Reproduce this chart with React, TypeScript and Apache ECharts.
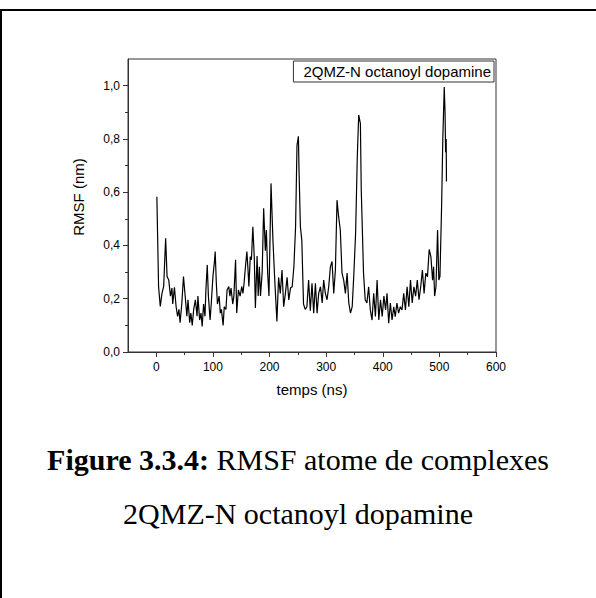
import React, { useEffect, useRef } from "react";
import * as echarts from "echarts";

const positions = [
  1, 4, 7, 10, 13, 16.5, 19, 22, 25, 27.6, 29, 32, 35, 37.6, 40, 42, 45, 48, 51, 54, 56, 59, 61, 63.5, 66, 69, 72, 73.5,
  76.5, 79, 81, 83.5, 86, 87.6, 90, 92, 95, 97, 100, 103, 104, 106, 108, 111, 113, 115, 118, 120, 123, 125, 128, 130,
  132, 135, 137, 140, 142, 145, 148, 151, 153, 155, 158, 160, 162, 163.5, 166, 168, 170.5, 173, 175, 178, 180, 182,
  184, 187, 189.6, 192.6, 194.4, 196.7, 199, 202.6, 206, 209, 213, 216, 219, 222, 225, 228, 231, 234, 237, 240, 243,
  246, 248.5, 251, 252, 254.5, 257, 260, 263, 266, 269, 272, 275, 278, 281, 284, 286.8, 290, 293, 295.6, 298.6, 301.6,
  304.5, 307.5, 310.4, 313.4, 316.3, 319.2, 322, 325, 328, 331, 334, 337, 340, 343, 346, 349, 352, 355, 357.5, 360.5,
  362, 363.8, 366, 369, 372, 375, 378, 381, 384, 387, 390, 393, 396, 399, 402, 405, 407.5, 410.5, 413.4, 416.4, 419.4,
  422, 425, 428, 431, 434, 437, 440, 443, 446, 449, 452, 455, 458, 461, 464, 467, 470, 473, 476, 479, 482, 485, 488,
  489.8, 491.6, 494, 496.8, 499, 501, 503.9, 506, 508.6, 510, 511, 512, 512.5,
];
const rmsf = [
  0.583, 0.246, 0.171, 0.22, 0.246, 0.427, 0.283, 0.27, 0.21, 0.24, 0.18, 0.243, 0.17, 0.134, 0.16, 0.11, 0.18, 0.283,
  0.21, 0.134, 0.196, 0.11, 0.146, 0.1, 0.16, 0.196, 0.134, 0.21, 0.12, 0.146, 0.096, 0.18, 0.134, 0.233, 0.327, 0.21,
  0.12, 0.18, 0.283, 0.346, 0.377, 0.258, 0.18, 0.21, 0.146, 0.16, 0.1, 0.17, 0.16, 0.233, 0.246, 0.21, 0.24, 0.18,
  0.21, 0.346, 0.146, 0.233, 0.21, 0.246, 0.22, 0.258, 0.333, 0.377, 0.308, 0.246, 0.358, 0.346, 0.47, 0.358, 0.165,
  0.36, 0.21, 0.32, 0.21, 0.3, 0.54, 0.38, 0.458, 0.296, 0.21, 0.633, 0.42, 0.28, 0.115, 0.28, 0.22, 0.308, 0.17, 0.22,
  0.28, 0.195, 0.24, 0.245, 0.32, 0.47, 0.776, 0.81, 0.69, 0.47, 0.42, 0.18, 0.16, 0.17, 0.27, 0.155, 0.258, 0.146,
  0.258, 0.146, 0.22, 0.245, 0.184, 0.27, 0.22, 0.196, 0.245, 0.32, 0.34, 0.22, 0.308, 0.57, 0.508, 0.458, 0.296, 0.27,
  0.22, 0.296, 0.184, 0.146, 0.17, 0.296, 0.445, 0.733, 0.89, 0.857, 0.608, 0.47, 0.296, 0.196, 0.184, 0.245, 0.158,
  0.12, 0.22, 0.133, 0.27, 0.12, 0.196, 0.133, 0.21, 0.158, 0.22, 0.108, 0.184, 0.12, 0.17, 0.133, 0.184, 0.146, 0.17,
  0.158, 0.22, 0.158, 0.245, 0.17, 0.27, 0.184, 0.245, 0.21, 0.27, 0.196, 0.245, 0.308, 0.22, 0.296, 0.283, 0.385,
  0.358, 0.27, 0.32, 0.21, 0.245, 0.458, 0.27, 0.283, 0.546, 0.795, 0.995, 0.9, 0.75, 0.8, 0.64,
];

const seriesName = "2QMZ-N octanoyl dopamine";
const xTicks = [0, 100, 200, 300, 400, 500, 600];
const xMinorTicks = [50, 150, 250, 350, 450, 550];
const yTicks = [0, 0.2, 0.4, 0.6, 0.8, 1.0];
const yMinorTicks = [0.1, 0.3, 0.5, 0.7, 0.9];
const xTitle = "temps (ns)";
const yTitle = "RMSF (nm)";
const captionBold = "Figure 3.3.4:";
const captionRest = " RMSF atome de complexes";
const captionLine2 = "2QMZ-N octanoyl dopamine";

const AX = "#333";
const SANS = "Liberation Sans, Arial, sans-serif";
const SERIF = "Liberation Serif, Times New Roman, serif";

export default function App() {
  const ref = useRef<HTMLDivElement>(null);
  useEffect(() => {
    if (!ref.current) return;
    const chart = echarts.init(ref.current, null, { renderer: "svg" });
    const G = { left: 128, top: 59, right: 100, bottom: 246 };
    const xBase = { type: "value", min: -50, max: 600, splitLine: { show: false }, gridIndex: 0 };
    const yBase = { type: "value", min: 0, max: 1.1, splitLine: { show: false }, gridIndex: 0 };
    chart.setOption({
      animation: false,
      backgroundColor: "#fff",
      grid: { ...G, show: true, borderColor: AX, borderWidth: 1, backgroundColor: "#fff" },
      xAxis: [
        {
          ...xBase,
          position: "bottom",
          axisLine: { show: true, onZero: false, lineStyle: { color: AX, width: 1 } },
          axisTick: { show: true, length: 5, customValues: xTicks, lineStyle: { color: AX } },
          axisLabel: {
            show: true,
            customValues: xTicks,
            margin: 9,
            color: "#000",
            fontSize: 12,
            fontFamily: SANS,
          },
          name: xTitle,
          nameLocation: "middle",
          nameGap: 30,
          nameTextStyle: { fontSize: 15, color: "#000", fontFamily: SANS, verticalAlign: "top" },
        },
        {
          ...xBase,
          position: "bottom",
          axisLine: { show: false, onZero: false },
          axisTick: { show: true, length: 3, customValues: xMinorTicks, lineStyle: { color: AX } },
          axisLabel: { show: false },
        },
      ],
      yAxis: [
        {
          ...yBase,
          position: "left",
          axisLine: { show: true, onZero: false, lineStyle: { color: AX, width: 1 } },
          axisTick: { show: true, length: 5, customValues: yTicks, lineStyle: { color: AX } },
          axisLabel: {
            show: true,
            customValues: yTicks,
            margin: 8,
            color: "#000",
            fontSize: 12,
            fontFamily: SANS,
            formatter: (v: number) => v.toFixed(1).replace(".", ","),
          },
        },
        {
          ...yBase,
          position: "left",
          axisLine: { show: false, onZero: false },
          axisTick: { show: true, length: 3, customValues: yMinorTicks, lineStyle: { color: AX } },
          axisLabel: { show: false },
        },
      ],
      legend: {
        show: true,
        data: [{ name: seriesName, icon: "none" }],
        itemWidth: 0,
        itemHeight: 0,
        itemGap: 0,
        right: 102,
        top: 61,
        padding: [3, 3, 3, 5],
        borderColor: AX,
        borderWidth: 1,
        backgroundColor: "#fff",
        textStyle: { fontSize: 15, color: "#000", fontFamily: SANS, padding: [0, 0, 0, 0] },
      },
      series: [
        {
          name: seriesName,
          type: "line",
          xAxisIndex: 0,
          yAxisIndex: 0,
          showSymbol: false,
          symbol: "none",
          data: positions.map((p, i) => [p, rmsf[i]]),
          lineStyle: { color: "#000", width: 1.2 },
          itemStyle: { color: "#000" },
        },
      ],
      graphic: [
        { type: "line", shape: { x1: 0, y1: 10, x2: 596, y2: 10 }, style: { stroke: "#000", lineWidth: 2 } },
        { type: "line", shape: { x1: 1, y1: 10, x2: 1, y2: 598 }, style: { stroke: "#000", lineWidth: 2 } },
        {
          type: "text",
          x: 78,
          y: 197,
          rotation: Math.PI / 2,
          style: {
            text: yTitle,
            fontSize: 15,
            fontFamily: SANS,
            fill: "#000",
            align: "center",
            verticalAlign: "middle",
          },
        },
        {
          type: "text",
          x: 298,
          y: 459,
          style: {
            text: "{b|" + captionBold + "}{r|" + captionRest + "}",
            align: "center",
            verticalAlign: "middle",
            rich: {
              b: { fontSize: 30, fontWeight: "bold", fontFamily: SERIF, fill: "#000" },
              r: { fontSize: 30, fontFamily: SERIF, fill: "#000" },
            },
          },
        },
        {
          type: "text",
          x: 298,
          y: 513,
          style: {
            text: captionLine2,
            fontSize: 30,
            fontFamily: SERIF,
            fill: "#000",
            align: "center",
            verticalAlign: "middle",
          },
        },
      ],
    });
    return () => chart.dispose();
  }, []);
  return (
    <div
      ref={ref}
      style={{ position: "fixed", left: 0, top: 0, width: 596, height: 598, background: "#fff" }}
    />
  );
}
